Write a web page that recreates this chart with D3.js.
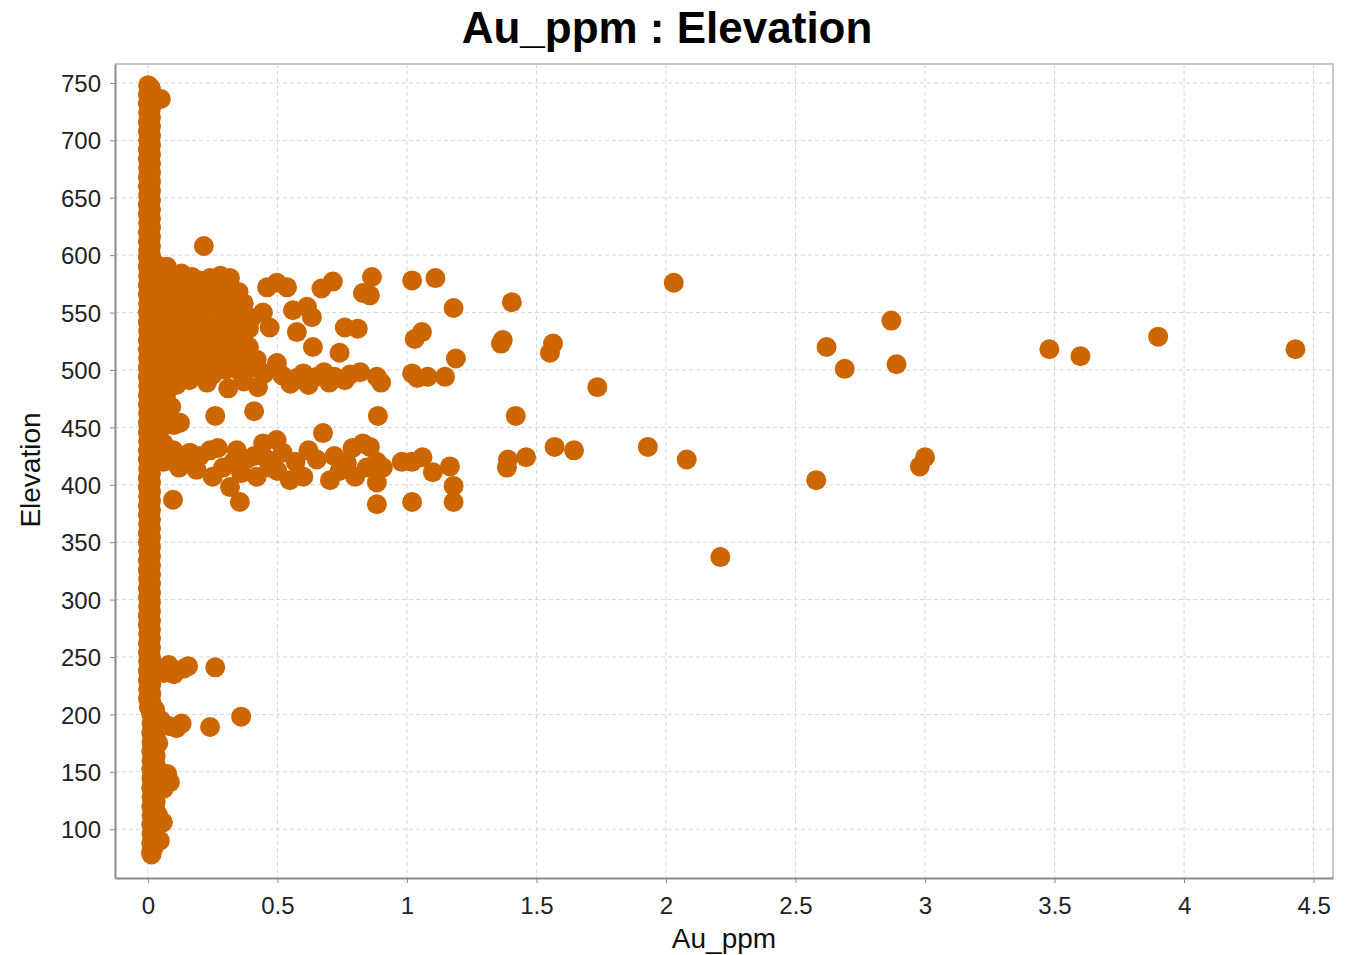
<!DOCTYPE html>
<html>
<head>
<meta charset="utf-8">
<script src="https://cdn.jsdelivr.net/npm/d3@7"></script>
<style>
  body { margin: 0; background: #fff; }
  text { font-family: "Liberation Sans", Arial, sans-serif; }
</style>
</head>
<body>
<svg id="chart" width="1355" height="955"></svg>
<script>
// ticks
var xTicks = [0, 0.5, 1, 1.5, 2, 2.5, 3, 3.5, 4, 4.5];
var yTicks = [100, 150, 200, 250, 300, 350, 400, 450, 500, 550, 600, 650, 700, 750];

// [Au_ppm, Elevation] - samples at / below detection (~0 ppm)
var nearZero = [
  [0.001,748],[0.05,736],[0,740],[0,732],[0.001,724],[0,716],[0,708],
  [0.001,700],[0,692],[0,684],[0.001,676],[0,668],[0,660],[0.001,652],[0,644],
  [0,636],[0.001,628],[0,620],[0,612],[0.001,604],[0,598],[0,590],[0.001,582],
  [0,574],[0,566],[0.001,558],[0,550],[0,542],[0.001,534],[0,526],[0,518],
  [0.001,510],[0,502],[0,494],[0.001,486],[0,478],[0,470],[0.001,462],[0,454],
  [0,446],[0.001,438],[0,430],[0,422],[0.001,414],[0,406],[0,398],[0.001,390],
  [0,382],[0,374],[0.001,366],[0,358],[0,350],[0.001,342],[0,334],[0,326],
  [0.001,318],[0,310],[0,302],[0.001,294],[0,286],[0,278],[0.001,270],[0,262],
  [0,254],[0.001,246],[0,238],[0,230],[0.001,222],[0,214],[0.004,206],
  [0.013,200],[0.014,192],[0.013,184],[0.014,176],[0.013,168],[0.014,160],[0.013,152],
  [0.014,144],[0.013,136],[0.014,128],[0.013,120],[0.014,112],[0.013,104],[0.014,96],
  [0.013,88],[0.012,80],[0.014,78]
];

// more ~0 ppm samples with a trace of gold
var nearZeroB = [
  [0.01,746],[0.012,744],[0.012,728],[0.012,720],[0.012,712],[0.012,704],[0.012,696],[0.012,688],[0.012,680],
  [0.012,672],[0.012,664],[0.012,656],[0.012,648],[0.012,640],[0.012,632],[0.012,624],[0.012,616],
  [0.012,608],[0.012,600],[0.012,594],[0.012,586],[0.012,578],[0.012,570],[0.012,562],[0.012,554],
  [0.012,546],[0.012,538],[0.012,530],[0.012,522],[0.012,514],[0.012,506],[0.012,498],[0.012,490],
  [0.012,482],[0.012,474],[0.012,466],[0.012,458],[0.012,450],[0.012,442],[0.012,434],[0.012,426],
  [0.012,418],[0.012,410],[0.012,402],[0.012,394],[0.012,386],[0.012,378],[0.012,370],[0.012,362],
  [0.012,354],[0.012,346],[0.012,338],[0.012,330],[0.012,322],[0.012,314],[0.012,306],[0.012,298],
  [0.012,290],[0.012,282],[0.012,274],[0.012,266],[0.012,258],[0.012,250],[0.012,242],[0.012,234],
  [0.013,226],[0.013,218],[0.014,210],[0.02,204],[0.028,204],[0.03,196],[0.03,188],
  [0.03,180],[0.03,172],[0.03,164],[0.03,156],[0.03,148],[0.03,140],[0.03,132],
  [0.03,124],[0.03,116],[0.03,108],[0.03,100],[0.028,92],[0.022,84]
];

// small spurs off the column low down
var lowSpurs = [
  [0.05,240],[0.08,243],[0.11,238],[0.14,240],[0.155,242],[0.1,235],[0.06,236],[0.26,241],
  [0.05,195],[0.08,190],[0.11,188],[0.13,192],[0.24,189],[0.36,198],
  [0.04,175],[0.075,148],[0.085,141],[0.06,135],[0.058,106],[0.04,112],[0.046,90]
];

// dense cloud 440-600 m
var upperCloud = [
  [0.03,592],[0.073,590],[0.216,608],
  [0.04,582],[0.1,580],[0.13,584],[0.17,581],[0.2,578],[0.24,580],[0.28,582],[0.317,580],
  [0.05,571],[0.09,568],[0.14,572],[0.19,569],[0.25,570],[0.3,566],[0.35,568],
  [0.03,561],[0.08,559],[0.13,557],[0.18,561],[0.23,558],[0.28,560],[0.33,556],[0.37,558],
  [0.05,550],[0.1,548],[0.15,551],[0.2,547],[0.25,549],[0.3,546],[0.35,550],[0.4,545],[0.444,550],
  [0.04,540],[0.09,538],[0.14,541],[0.19,536],[0.24,539],[0.29,535],[0.34,540],[0.39,536],[0.47,537],
  [0.06,530],[0.11,527],[0.16,531],[0.21,528],[0.26,526],[0.31,530],[0.36,527],
  [0.04,520],[0.09,518],[0.14,521],[0.19,516],[0.24,519],[0.29,514],[0.34,517],[0.39,520],
  [0.06,510],[0.11,507],[0.16,511],[0.21,508],[0.27,505],[0.32,510],[0.37,506],[0.42,509],
  [0.04,500],[0.09,497],[0.14,501],[0.19,498],[0.25,496],[0.3,500],[0.36,497],[0.41,502],[0.45,497],
  [0.06,490],[0.11,487],[0.16,491],[0.228,489],[0.31,484],[0.37,490],[0.425,485],
  [0.03,481],[0.07,478],[0.05,471],[0.09,468],[0.03,461],[0.08,457],[0.05,449],[0.1,452],
  [0.03,440],[0.06,436],[0.124,454],[0.26,460],[0.41,464]
];

// middle spread 0.45-1.2 ppm, 480-585 m
var midSpread = [
  [0.46,572],[0.498,576],[0.537,572],[0.67,571],[0.714,577],[0.865,581],[0.83,567],
  [0.56,552],[0.614,555],[0.633,546],[0.575,533],[0.637,520],[0.76,537],[0.81,536],
  [0.498,506],[0.74,515],[0.52,495],[0.55,488],[0.575,493],[0.6,497],[0.62,487],[0.652,494],
  [0.68,498],[0.70,489],[0.72,494],[0.76,491],[0.78,496],[0.82,498],[0.884,494],[0.9,489],
  [1.02,578],[1.11,580],[0.857,565],[1.18,554],[1.058,533],[1.03,527],[1.189,510],
  [1.02,497],[1.04,493],[1.08,494],[1.147,494],[0.888,460]
];

// band around 380-445 m
var lowerBand = [
  [0.098,430],[0.162,428],[0.188,413],[0.24,430],[0.25,407],[0.29,415],[0.343,430],[0.317,398],
  [0.38,422],[0.42,407],[0.445,436],[0.47,415],[0.497,439],[0.52,428],[0.548,404],[0.6,407],
  [0.652,422],[0.676,445],[0.703,404],[0.768,419],[0.83,436],[0.845,415],[0.884,402],[0.907,415],
  [0.06,420],[0.12,415],[0.14,422],[0.2,425],[0.27,432],[0.33,420],[0.36,410],[0.41,425],
  [0.46,422],[0.5,412],[0.57,420],[0.62,430],[0.72,425],[0.74,412],[0.79,432],[0.8,407],
  [0.097,387],[0.355,385],[0.884,383],
  [0.857,433],[0.884,420],[0.98,420],[1.02,420],[1.06,424],[1.10,411],[1.166,416],
  [1.18,399],[1.18,385],[1.02,385]
];

// high-grade outliers
var outliers = [
  [1.405,559],[1.363,523],[1.37,526],[1.564,523],[1.552,515],[1.735,485],[1.42,460],
  [1.386,415],[1.39,422],[1.46,424],[1.57,433],[1.645,430],
  [2.03,576],[1.93,433],[2.08,422],[2.21,337],[2.62,520],[2.69,501],[2.87,543],[2.89,505],
  [2.58,404],[3.0,424],[2.98,416],[3.48,518],[3.60,512],[3.90,529],[4.43,518]
];

var allPoints = nearZero.concat(nearZeroB, lowSpurs, upperCloud, midSpread, lowerBand, outliers);

var plot = {left: 115, right: 1333, top: 64, bottom: 878};
var svg = d3.select("#chart");

var x = d3.scaleLinear().domain([-0.127, 4.575]).range([plot.left, plot.right]);
var y = d3.scaleLinear().domain([57.5, 766.5]).range([plot.bottom, plot.top]);

// grid
var grid = svg.append("g").attr("class", "grid");
grid.selectAll(".gx").data(xTicks).enter().append("line")
  .attr("x1", function(d) { return x(d); })
  .attr("x2", function(d) { return x(d); })
  .attr("y1", plot.top)
  .attr("y2", plot.bottom)
  .attr("stroke", "#d6d6d6")
  .attr("stroke-dasharray", "4,3");
grid.selectAll(".gy").data(yTicks).enter().append("line")
  .attr("x1", plot.left)
  .attr("x2", plot.right)
  .attr("y1", function(d) { return y(d); })
  .attr("y2", function(d) { return y(d); })
  .attr("stroke", "#d6d6d6")
  .attr("stroke-dasharray", "4,3");

// frame (top / right)
svg.append("path")
  .attr("d", "M" + plot.left + "," + plot.top + "H" + plot.right + "V" + plot.bottom)
  .attr("fill", "none")
  .attr("stroke", "#c8c8c8")
  .attr("stroke-width", 2);

// dots
svg.append("g").selectAll("circle").data(allPoints).enter().append("circle")
  .attr("cx", function(d) { return x(d[0]); })
  .attr("cy", function(d) { return y(d[1]); })
  .attr("r", 10)
  .attr("fill", "#cc6600");

// axes
var xAxis = svg.append("g")
  .attr("transform", "translate(0," + plot.bottom + ")")
  .call(d3.axisBottom(x).tickValues(xTicks).tickFormat(d3.format("~g"))
    .tickSize(5).tickPadding(8).tickSizeOuter(0));
var yAxis = svg.append("g")
  .attr("transform", "translate(" + plot.left + ",0)")
  .call(d3.axisLeft(y).tickValues(yTicks).tickSize(5).tickPadding(9).tickSizeOuter(0));

[xAxis, yAxis].forEach(function(a) {
  a.select(".domain").attr("stroke", "#8a8a8a").attr("stroke-width", 2);
  a.selectAll(".tick line").attr("stroke", "#8a8a8a");
  a.selectAll(".tick text")
    .attr("fill", "#222")
    .style("font-family", "'Liberation Sans', Arial, sans-serif")
    .style("font-size", "24px");
});
xAxis.selectAll(".tick text").attr("dy", "0.95em");
yAxis.selectAll(".tick text").attr("dy", "0.36em");

// titles
svg.append("text")
  .attr("x", 667)
  .attr("y", 43)
  .attr("text-anchor", "middle")
  .attr("font-size", 44)
  .attr("font-weight", "bold")
  .attr("fill", "#000")
  .text("Au_ppm : Elevation");

svg.append("text")
  .attr("x", 724)
  .attr("y", 948)
  .attr("text-anchor", "middle")
  .attr("font-size", 28)
  .attr("fill", "#111")
  .text("Au_ppm");

svg.append("text")
  .attr("transform", "translate(40,470) rotate(-90)")
  .attr("text-anchor", "middle")
  .attr("font-size", 28)
  .attr("fill", "#111")
  .text("Elevation");
</script>
</body>
</html>
